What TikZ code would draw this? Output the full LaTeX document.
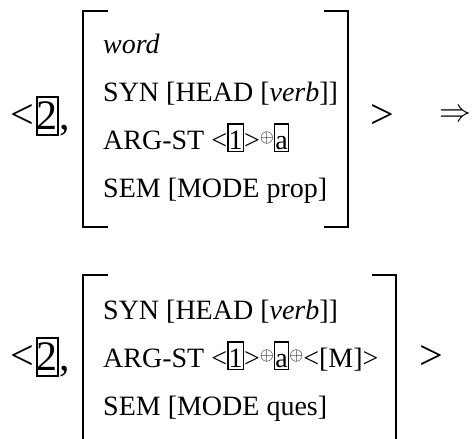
\RequirePackage{fix-cm}
\documentclass[tikz,border=0pt]{standalone}
\usepackage{graphicx}
\usepackage{fontspec}
\setmainfont{Liberation Serif}
\newcommand\ibox[1]{{\setlength\fboxsep{0pt}\setlength\fboxrule{1.5pt}\fbox{\rule[-1.5pt]{0pt}{26pt}#1}}}
\newcommand\opl{\raisebox{6.5pt}{\resizebox{14pt}{!}{$\oplus$}}}
\begin{document}
\begin{tikzpicture}[x=1pt,y=-1pt,
  row/.style={anchor=base west, inner sep=0pt, font=\fontsize{28}{28}\selectfont},
  big/.style={inner sep=0pt, font=\fontsize{42}{42}\selectfont},
  arrowsym/.style={inner sep=0pt, anchor=east},
  bracket/.style={line width=1.7pt},
  tagbox/.style={draw, line width=1.6pt, inner xsep=0pt, inner ysep=0pt, anchor=base, font=\fontsize{42}{42}\selectfont}]
\useasboundingbox (0,0) rectangle (472,439);

% ---- upper structure ----
\node[big] (lt1) at (22.5,116) {<};
\node[tagbox] (two1) at (47.5,129) {\rule[-6pt]{0pt}{38pt}2};
\node[big, anchor=base west] (cm1) at ([xshift=0.5pt]two1.base east) {,};
\draw[bracket] (108,11) -- (83,11) -- (83,227) -- (108,227);
\draw[bracket] (324,11) -- (348,11) -- (348,227) -- (324,227);
\node[row] (w1) at (103,53) {\textit{word}};
\node[row] (s1) at (103,101) {SYN [HEAD [\textit{verb}]]};
\node[row] (a1) at (103,149) {ARG-ST <\ibox{1}>\opl\ibox{a}};
\node[row] (m1) at (103,197) {SEM [MODE prop]};
\node[big] (gt1) at (382.5,116) {>};
\node[arrowsym] (imp) at (471.5,116) {\resizebox{32pt}{!}{$\Rightarrow$}};

% ---- lower structure ----
\node[big] (lt2) at (22.5,357) {<};
\node[tagbox] (two2) at (47.5,370) {\rule[-6pt]{0pt}{38pt}2};
\node[big, anchor=base west] (cm2) at ([xshift=0.5pt]two2.base east) {,};
\draw[bracket] (108,275) -- (83,275) -- (83,441);
\draw[bracket] (372,275) -- (396,275) -- (396,441);
\node[row] (s2) at (103,319) {SYN [HEAD [\textit{verb}]]};
\node[row] (a2) at (103,367) {ARG-ST <\ibox{1}>\opl\ibox{a}\opl<[M]>};
\node[row] (m2) at (103,415) {SEM [MODE ques]};
\node[big] (gt2) at (431,357) {>};
\end{tikzpicture}
\end{document}
